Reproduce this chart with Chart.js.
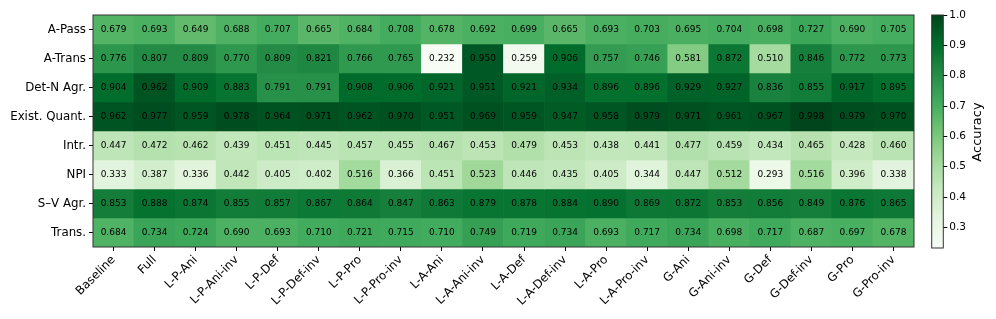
<!DOCTYPE html>
<html>
<head>
<meta charset="utf-8">
<script src="https://cdn.jsdelivr.net/npm/chart.js@4.4.1/dist/chart.umd.min.js"></script>
<style>
  html, body { margin: 0; padding: 0; background: #fff; }
  #wrap { position: relative; width: 996px; height: 319px; }
  #heat { position: absolute; left: 0; top: 0; }
  #cbar { position: absolute; left: 920px; top: 0; }
</style>
</head>
<body>
<div id="wrap">
  <canvas id="heat" width="996" height="319"></canvas>
  <canvas id="cbar" width="76" height="319"></canvas>
</div>
<script>
// columns (model variants) and rows (phenomena)
const columns = ['Baseline', 'Full', 'L-P-Ani', 'L-P-Ani-inv', 'L-P-Def', 'L-P-Def-inv', 'L-P-Pro', 'L-P-Pro-inv',
  'L-A-Ani', 'L-A-Ani-inv', 'L-A-Def', 'L-A-Def-inv', 'L-A-Pro', 'L-A-Pro-inv',
  'G-Ani', 'G-Ani-inv', 'G-Def', 'G-Def-inv', 'G-Pro', 'G-Pro-inv'];
const rows = ['A-Pass', 'A-Trans', 'Det-N Agr.', 'Exist. Quant.', 'Intr.', 'NPI', 'S\u2013V Agr.', 'Trans.'];

const aPass  = [0.679, 0.693, 0.649, 0.688, 0.707, 0.665, 0.684, 0.708, 0.678, 0.692, 0.699, 0.665, 0.693, 0.703, 0.695, 0.704, 0.698, 0.727, 0.690, 0.705];
const aTrans = [0.776, 0.807, 0.809, 0.770, 0.809, 0.821, 0.766, 0.765, 0.232, 0.950, 0.259, 0.906, 0.757, 0.746, 0.581, 0.872, 0.510, 0.846, 0.772, 0.773];
const detN   = [0.904, 0.962, 0.909, 0.883, 0.791, 0.791, 0.908, 0.906, 0.921, 0.951, 0.921, 0.934, 0.896, 0.896, 0.929, 0.927, 0.836, 0.855, 0.917, 0.895];
const exist  = [0.962, 0.977, 0.959, 0.978, 0.964, 0.971, 0.962, 0.970, 0.951, 0.969, 0.959, 0.947, 0.958, 0.979, 0.971, 0.961, 0.967, 0.998, 0.979, 0.970];
const intr   = [0.447, 0.472, 0.462, 0.439, 0.451, 0.445, 0.457, 0.455, 0.467, 0.453, 0.479, 0.453, 0.438, 0.441, 0.477, 0.459, 0.434, 0.465, 0.428, 0.460];
const npi    = [0.333, 0.387, 0.336, 0.442, 0.405, 0.402, 0.516, 0.366, 0.451, 0.523, 0.446, 0.435, 0.405, 0.344, 0.447, 0.512, 0.293, 0.516, 0.396, 0.338];
const svAgr  = [0.853, 0.888, 0.874, 0.855, 0.857, 0.867, 0.864, 0.847, 0.863, 0.879, 0.878, 0.884, 0.890, 0.869, 0.872, 0.853, 0.856, 0.849, 0.876, 0.865];
const trans  = [0.684, 0.734, 0.724, 0.690, 0.693, 0.710, 0.721, 0.715, 0.710, 0.749, 0.719, 0.734, 0.693, 0.717, 0.734, 0.698, 0.717, 0.687, 0.697, 0.678];
const values = [aPass, aTrans, detN, exist, intr, npi, svAgr, trans];

const cbTicks = [0.3, 0.4, 0.5, 0.6, 0.7, 0.8, 0.9, 1.0];
const vmin = 0.232, vmax = 1.0;

// matplotlib "Greens"
const greensStops = ['#f7fcf5', '#e5f5e0', '#c7e9c0', '#a1d99b', '#74c476', '#41ab5d', '#238b45', '#006d2c', '#00441b'];
function hexRgb(h) {
  return [parseInt(h.slice(1, 3), 16), parseInt(h.slice(3, 5), 16), parseInt(h.slice(5, 7), 16)];
}
function greens(v) {
  let t = (v - vmin) / (vmax - vmin);
  t = Math.max(0, Math.min(1, t));
  const p = t * 8;
  const i = Math.min(7, Math.floor(p));
  const f = p - i;
  const a = hexRgb(greensStops[i]), b = hexRgb(greensStops[i + 1]);
  const c = a.map((x, k) => Math.round(x + (b[k] - x) * f));
  return 'rgb(' + c.join(',') + ')';
}

const FONT = 'DejaVu Sans';
Chart.defaults.font.family = FONT;
Chart.defaults.color = '#000';

// frame round the plot area
const frame = {
  id: 'frame',
  afterDraw(chart) {
    const a = chart.chartArea, ctx = chart.ctx;
    ctx.save();
    ctx.strokeStyle = '#333';
    ctx.lineWidth = 1;
    ctx.strokeRect(a.left, a.top, a.right - a.left, a.bottom - a.top);
    ctx.restore();
  }
};

// numbers in each cell
const cellText = {
  id: 'cellText',
  afterDatasetsDraw(chart) {
    const ctx = chart.ctx, xs = chart.scales.x, ys = chart.scales.y;
    ctx.save();
    ctx.font = '9px "' + FONT + '"';
    ctx.fillStyle = '#000';
    ctx.textAlign = 'center';
    ctx.textBaseline = 'middle';
    values.forEach((row, r) => {
      row.forEach((v, c) => {
        ctx.fillText(v.toFixed(3), xs.getPixelForValue(c), ys.getPixelForValue(r + 0.5));
      });
    });
    ctx.restore();
  }
};

const datasets = rows.map((name, r) => ({
  label: name,
  data: columns.map(() => [r, r + 1]),
  backgroundColor: values[r].map(greens),
  borderWidth: 0,
  barPercentage: 1,
  categoryPercentage: 1,
  grouped: false
}));

new Chart(document.getElementById('heat'), {
  type: 'bar',
  data: { labels: columns, datasets: datasets },
  options: {
    responsive: false,
    animation: false,
    events: [],
    layout: { padding: { left: 0, top: 15, right: 82, bottom: 0 } },
    plugins: { legend: { display: false }, tooltip: { enabled: false } },
    scales: {
      x: {
        grid: { drawOnChartArea: false, offset: false, tickLength: 4, color: '#000', tickColor: '#000' },
        border: { display: false },
        ticks: { minRotation: 45, maxRotation: 45, autoSkip: false, padding: 2, font: { size: 11.8 } },
        afterFit(s) { s.height = 72; }
      },
      y: {
        min: 0, max: 8, reverse: true,
        grid: { drawOnChartArea: false, tickLength: 4, color: '#000', tickColor: '#000' },
        border: { display: false },
        ticks: { padding: 3, font: { size: 11.8 }, callback: (v) => rows[Math.floor(v)] },
        afterBuildTicks(s) { s.ticks = rows.map((_, i) => ({ value: i + 0.5 })); },
        afterFit(s) { s.width = 93; }
      }
    }
  },
  plugins: [cellText, frame]
});

// colour bar
const cbTitle = {
  id: 'cbTitle',
  afterDraw(chart) {
    const ctx = chart.ctx;
    ctx.save();
    ctx.translate(57.5, 132);
    ctx.rotate(-Math.PI / 2);
    ctx.font = '13px "' + FONT + '"';
    ctx.fillStyle = '#000';
    ctx.textAlign = 'center';
    ctx.textBaseline = 'middle';
    ctx.fillText('Accuracy', 0, 0);
    ctx.restore();
  }
};

new Chart(document.getElementById('cbar'), {
  type: 'bar',
  data: {
    labels: [''],
    datasets: [{
      data: [[vmin, vmax]],
      borderWidth: 0,
      barPercentage: 1,
      categoryPercentage: 1,
      backgroundColor(c) {
        const area = c.chart.chartArea;
        if (!area) return '#74c476';
        const g = c.chart.ctx.createLinearGradient(0, area.bottom, 0, area.top);
        greensStops.forEach((col, i) => g.addColorStop(i / 8, col));
        return g;
      }
    }]
  },
  options: {
    responsive: false,
    animation: false,
    events: [],
    layout: { padding: { left: 11.7, top: 15, right: 0, bottom: 71 } },
    plugins: { legend: { display: false }, tooltip: { enabled: false } },
    scales: {
      x: { display: false },
      y: {
        position: 'right',
        min: vmin, max: vmax,
        grid: { drawOnChartArea: false, tickLength: 4, color: '#000', tickColor: '#000' },
        border: { display: false },
        ticks: { padding: 2, font: { size: 10.5 }, callback: (v) => v.toFixed(1) },
        afterBuildTicks(s) { s.ticks = cbTicks.map(v => ({ value: v })); },
        afterFit(s) { s.width = 52.7; }
      }
    }
  },
  plugins: [frame, cbTitle]
});
</script>
</body>
</html>
